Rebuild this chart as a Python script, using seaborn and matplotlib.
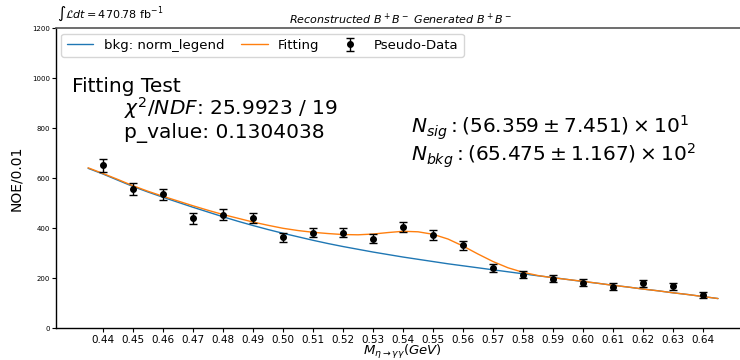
import numpy as np
import pandas as pd
import matplotlib
matplotlib.use("Agg")
import matplotlib.pyplot as plt
import seaborn as sns

# ---- data ----
mass = [0.44, 0.45, 0.46, 0.47, 0.48, 0.49, 0.50, 0.51, 0.52, 0.53, 0.54,
        0.55, 0.56, 0.57, 0.58, 0.59, 0.60, 0.61, 0.62, 0.63, 0.64]
counts = [652, 558, 536, 440, 454, 441, 364, 383, 383, 359, 407,
          372, 332, 241, 214, 199, 183, 167, 180, 168, 132]
errors = [25.5, 23.6, 23.2, 21.0, 21.3, 21.0, 19.1, 19.6, 19.6, 18.9, 20.2,
          19.3, 18.2, 15.5, 14.6, 14.1, 13.5, 12.9, 13.4, 13.0, 11.5]

curve_x = [0.435, 0.440, 0.445, 0.450, 0.455, 0.460, 0.465, 0.470, 0.475, 0.480,
           0.485, 0.490, 0.495, 0.500, 0.505, 0.510, 0.515, 0.520, 0.525, 0.530,
           0.535, 0.540, 0.545, 0.550, 0.555, 0.560, 0.565, 0.570, 0.575, 0.580,
           0.585, 0.590, 0.595, 0.600, 0.605, 0.610, 0.615, 0.620, 0.625, 0.630,
           0.635, 0.640, 0.645]
bkg_curve = [640, 617, 592, 567, 545, 524, 504, 484, 465, 446,
             428, 411, 395, 380, 366, 352, 339, 327, 316, 305,
             295, 285, 276, 267, 258, 250, 242, 234, 226, 218,
             210, 203, 195, 187, 180, 172, 165, 157, 150, 142,
             135, 127, 119]
fit_curve = [642, 619, 595, 570, 548, 528, 509, 490, 472, 455,
             440, 425, 412, 400, 391, 384, 379, 375, 374, 377,
             383, 388, 386, 376, 357, 329, 297, 267, 242, 224,
             211, 202, 195, 188, 180, 172, 165, 157, 150, 142,
             135, 127, 119]

xticks = [0.44, 0.45, 0.46, 0.47, 0.48, 0.49, 0.50, 0.51, 0.52, 0.53, 0.54,
          0.55, 0.56, 0.57, 0.58, 0.59, 0.60, 0.61, 0.62, 0.63, 0.64]
yticks = [0, 200, 400, 600, 800, 1000, 1200]

# ---- plot ----
sns.set_theme(style="ticks")
plt.rcParams['font.family'] = ['DejaVu Sans']
for k in ["text.color", "axes.labelcolor", "xtick.color", "ytick.color", "axes.edgecolor"]:
    plt.rcParams[k] = "black"

fig = plt.figure(figsize=(7.4, 3.6), dpi=100)
ax = fig.add_axes([56 / 740, 31.7 / 360, 692 / 740, 300 / 360])

curves = pd.DataFrame({"x": curve_x, "bkg": bkg_curve, "fit": fit_curve})
sns.lineplot(data=curves, x="x", y="bkg", ax=ax, color="#1f77b4", lw=1.0,
             label="bkg: norm_legend")
sns.lineplot(data=curves, x="x", y="fit", ax=ax, color="#ff7f0e", lw=1.0,
             label="Fitting")
ax.errorbar(mass, counts, yerr=errors, fmt="o", color="black", ms=4,
            capsize=3, elinewidth=1, label="Pseudo-Data")

ax.set_xlim(0.4243, 0.655)
ax.set_ylim(0, 1200)
ax.set_xticks(xticks)
ax.set_xticklabels([f"{t:.2f}" for t in xticks], fontsize=7.5)
ax.set_yticks(yticks)
ax.set_yticklabels([str(t) for t in yticks], fontsize=5)
ax.tick_params(axis="both", length=3, width=0.8, color="black", pad=1.5)
ax.set_xlabel(r"$M_{\eta\rightarrow\gamma\gamma}(GeV)$", fontsize=9.5, labelpad=-1)
ax.set_ylabel("NOE/0.01", fontsize=10, labelpad=6)
for s in ["left", "bottom"]:
    ax.spines[s].set_color("black")
    ax.spines[s].set_linewidth(1.0)
ax.spines["top"].set_color("#555555")
ax.spines["top"].set_linewidth(1.2)
ax.spines["right"].set_visible(False)

ax.legend(loc="upper left", ncol=3, fontsize=9.5, frameon=True,
          bbox_to_anchor=(0.0, 1.0), columnspacing=1.3, handlelength=2.0,
          borderaxespad=0.4)

ax.set_title(r"$Reconstructed\ B^+B^-\ Generated\ B^+B^-$", fontsize=8, pad=3,
             x=(400 - 56) / 692)
fig.text(57 / 740, 1 - 14 / 360, r"$\int\mathcal{L}dt = 470.78\ \mathrm{fb}^{-1}$",
         fontsize=8, ha="left", va="center")

fig.text(72 / 740, 1 - 86 / 360, "Fitting Test", fontsize=14.5, ha="left", va="center")
fig.text(124 / 740, 1 - 108 / 360, r"$\chi^2/NDF$: 25.9923 / 19", fontsize=14.5,
         ha="left", va="center")
fig.text(124 / 740, 1 - 133 / 360, "p_value: 0.1304038", fontsize=14.5,
         ha="left", va="center")
fig.text(411 / 740, 1 - 128 / 360, r"$N_{sig}: (56.359 \pm 7.451)\times 10^{1}$",
         fontsize=14.5, ha="left", va="center")
fig.text(411 / 740, 1 - 156 / 360, r"$N_{bkg}: (65.475 \pm 1.167)\times 10^{2}$",
         fontsize=14.5, ha="left", va="center")

fig.savefig("out.png", dpi=100)
